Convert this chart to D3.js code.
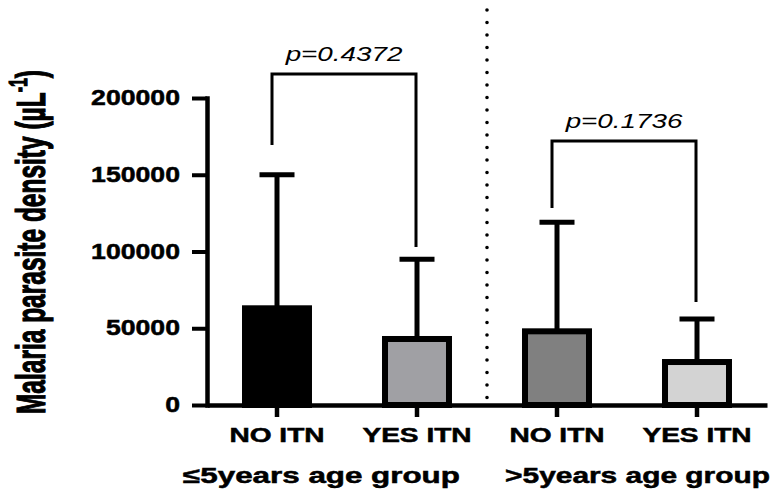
<!DOCTYPE html>
<html><head><meta charset="utf-8">
<script src="https://cdn.jsdelivr.net/npm/d3@7"></script>
<style>
html,body{margin:0;padding:0;background:#fff;}
svg{display:block;font-family:"Liberation Sans",Arial,Helvetica,sans-serif;}
</style></head>
<body>
<svg id="chart" width="782" height="490"></svg>
<script>
// ---- data ----
const categories = ["NO ITN", "YES ITN", "NO ITN", "YES ITN"];
const barIds = ["u5_no", "u5_yes", "o5_no", "o5_yes"];
const groups = ["≤5years age group", ">5years age group"];
const means = [63000, 43000, 48000, 28000];
const sds = [87000, 52000, 71000, 28000];
const fills = ["#000000", "#a0a0a4", "#808080", "#d3d3d3"];
const yTicks = [0, 50000, 100000, 150000, 200000];
const pLabels = ["p=0.4372", "p=0.1736"];
const pairs = [[0, 1], [2, 3]];
const bracketLevels = [215600, 172000];
const bracketLeftEnds = [169400, 128300];
const bracketRightEnds = [102900, 67100];
const yTitle = "Malaria parasite density (µL";
const yTitleSup = "-1";

// ---- layout ----
const svg = d3.select("#chart");
const font = '"Liberation Sans", Arial, Helvetica, sans-serif';
const y = d3.scaleLinear().domain([0, 200000]).range([405, 98]);
const x = d3.scaleBand().domain(barIds).range([207, 767]).paddingInner(0.543).paddingOuter(0.2715);
const cx = i => x(barIds[i]) + x.bandwidth() / 2;

// dotted separator
const sepX = (cx(1) + cx(2)) / 2;
svg.append("line")
  .attr("x1", sepX).attr("x2", sepX).attr("y1", 10).attr("y2", 405)
  .attr("stroke", "#000").attr("stroke-width", 3.6)
  .attr("stroke-linecap", "round").attr("stroke-dasharray", "0 12.5");

// y axis
const yAxis = svg.append("g").attr("transform", "translate(207,0)")
  .call(d3.axisLeft(y).tickValues(yTicks).tickSize(15).tickSizeOuter(0).tickFormat(d3.format("d")));
yAxis.select(".domain").attr("stroke-width", 4.5).attr("stroke-linecap", "square");
yAxis.selectAll(".tick line").attr("stroke-width", 4);
yAxis.selectAll(".tick text")
  .attr("x", 0).attr("dy", null).attr("y", 6.5)
  .attr("transform", "translate(-27,0) scale(1.24,1)")
  .attr("font-family", font).attr("font-size", 21.5).attr("font-weight", "bold")
  .attr("fill", "#000").attr("stroke", "#000").attr("stroke-width", 0.5);

// x axis
const xAxis = svg.append("g").attr("transform", "translate(0,405)")
  .call(d3.axisBottom(x).tickSize(12).tickSizeOuter(0).tickFormat(""));
xAxis.select(".domain").attr("stroke-width", 4.5);
xAxis.selectAll(".tick line").attr("stroke-width", 4.5);
xAxis.selectAll(".tick text").remove();

// error bars
const eb = svg.append("g");
means.forEach((m, i) => {
  eb.append("line").attr("x1", cx(i)).attr("x2", cx(i))
    .attr("y1", y(m)).attr("y2", y(m + sds[i]))
    .attr("stroke", "#000").attr("stroke-width", 5);
  eb.append("line").attr("x1", cx(i) - 17.5).attr("x2", cx(i) + 17.5)
    .attr("y1", y(m + sds[i])).attr("y2", y(m + sds[i]))
    .attr("stroke", "#000").attr("stroke-width", 5);
});

// bars
svg.append("g").selectAll("rect").data(means).join("rect")
  .attr("x", (d, i) => x(barIds[i]))
  .attr("width", x.bandwidth())
  .attr("y", d => y(d))
  .attr("height", d => y(0) - y(d))
  .attr("fill", (d, i) => fills[i])
  .attr("stroke", "#000").attr("stroke-width", 6);

// brackets
pairs.forEach((p, k) => {
  const xl = cx(p[0]) - 5, xr = cx(p[1]) - 1;
  svg.append("path")
    .attr("d", `M${xl},${y(bracketLeftEnds[k])}V${y(bracketLevels[k])}H${xr}V${y(bracketRightEnds[k])}`)
    .attr("fill", "none").attr("stroke", "#000").attr("stroke-width", 3);
  const tx = (xl + xr) / 2, ty = y(bracketLevels[k]) - 13;
  svg.append("text").text(pLabels[k])
    .attr("transform", `translate(${tx},${ty}) scale(1.39,1)`)
    .attr("text-anchor", "middle").attr("font-family", font)
    .attr("font-size", 20).attr("font-style", "italic").attr("fill", "#000");
});

// category labels
categories.forEach((c, i) => {
  svg.append("text").text(c)
    .attr("transform", `translate(${cx(i)},442) scale(1.37,1)`)
    .attr("text-anchor", "middle").attr("font-family", font)
    .attr("font-size", 20.5).attr("font-weight", "bold")
    .attr("fill", "#000").attr("stroke", "#000").attr("stroke-width", 0.5);
});

// group labels
const groupX = [321.5, 637.5];
const groupW = [277, 265];
groups.forEach((g, i) => {
  const t = svg.append("text").text(g)
    .attr("text-anchor", "middle").attr("font-family", font)
    .attr("font-size", 21.5).attr("font-weight", "bold")
    .attr("fill", "#000").attr("stroke", "#000").attr("stroke-width", 0.5);
  const w = t.node().getComputedTextLength();
  t.attr("transform", `translate(${groupX[i]},482.5) scale(${groupW[i] / w},1)`);
});

// y title
const yt = svg.append("text")
  .attr("transform", "translate(45,242) scale(1.65,1) rotate(-90)")
  .attr("text-anchor", "middle").attr("font-family", font)
  .attr("font-size", 24.5).attr("font-weight", "bold")
  .attr("fill", "#000").attr("stroke", "#000").attr("stroke-width", 0.7);
yt.append("tspan").text(yTitle);
yt.append("tspan").text(yTitleSup).attr("font-size", 16).attr("dy", -11);
yt.append("tspan").text(")").attr("dy", 11);
</script>
</body></html>
